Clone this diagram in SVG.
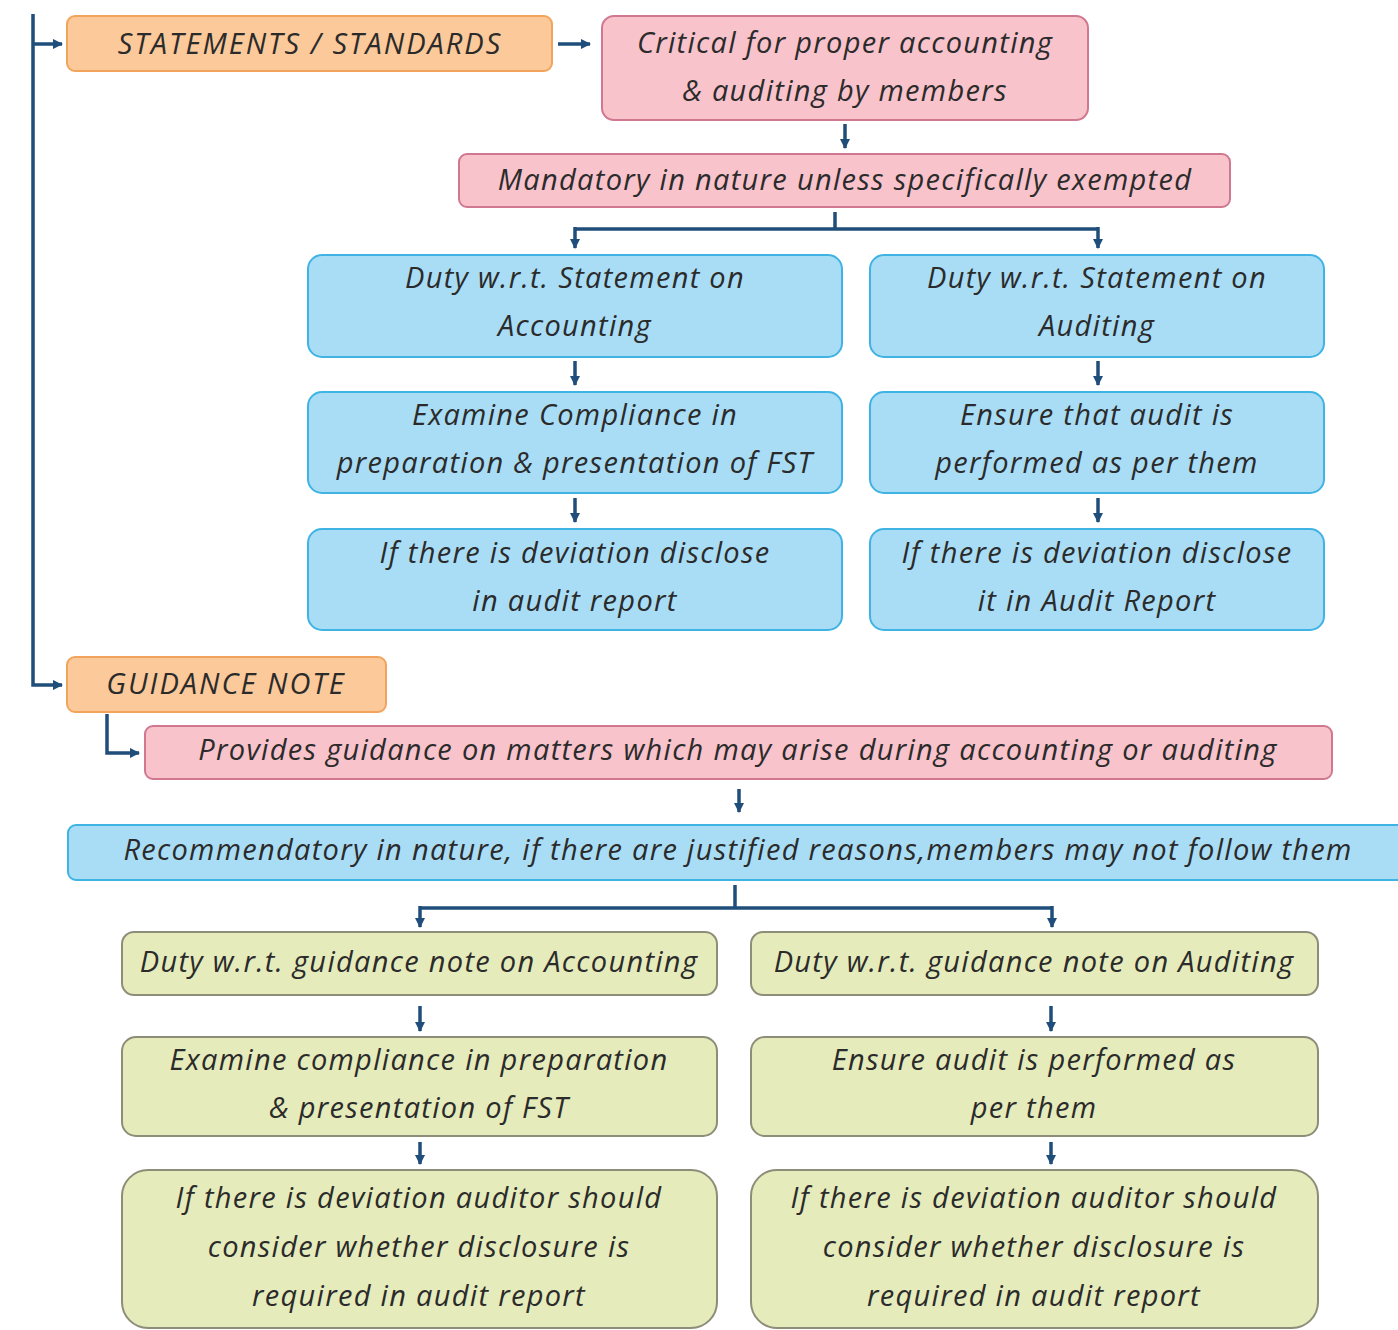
<svg xmlns="http://www.w3.org/2000/svg" width="1398" height="1330" viewBox="0 0 1398 1330">
  <style>
    .t { font-family: "Open Sans", "Liberation Sans", sans-serif; font-style: italic; font-size: 29px; letter-spacing: 1.3px; fill: #2b2b2b; text-anchor: middle; }
    .cap { letter-spacing: 2px; }
    .orange rect { fill: #fcc99a; stroke: #f2a45c; stroke-width: 2; }
    .pink rect { fill: #f8c3cb; stroke: #cf7890; stroke-width: 2; }
    .blue rect { fill: #a9ddf6; stroke: #3fb3e3; stroke-width: 2; }
    .green rect { fill: #e6ebbb; stroke: #8d8d78; stroke-width: 2; }
    .c { fill: none; stroke: #1f4e7a; stroke-width: 3.5; }
  </style>
  <defs>
    <marker id="ah" viewBox="0 0 10 10" refX="9" refY="5" markerWidth="3" markerHeight="3" orient="auto" markerUnits="strokeWidth">
      <path d="M0,0 L10,5 L0,10 Z" fill="#1f4e7a"/>
    </marker>
  </defs>
  <rect width="1398" height="1330" fill="#ffffff"/>

  <!-- connectors -->
  <g id="connectors">
    <path class="c" d="M33,14 V685 H62" marker-end="url(#ah)"/>
    <path class="c" d="M33,44 H62" marker-end="url(#ah)"/>
    <path class="c" d="M558,44 H590" marker-end="url(#ah)"/>
    <path class="c" d="M845,124 V148" marker-end="url(#ah)"/>
    <path class="c" d="M835,212 V229"/>
    <path class="c" d="M575,229 H1098"/>
    <path class="c" d="M575,227 V248" marker-end="url(#ah)"/>
    <path class="c" d="M1098,227 V248" marker-end="url(#ah)"/>
    <path class="c" d="M575,361 V385" marker-end="url(#ah)"/>
    <path class="c" d="M1098,361 V385" marker-end="url(#ah)"/>
    <path class="c" d="M575,498 V522" marker-end="url(#ah)"/>
    <path class="c" d="M1098,498 V522" marker-end="url(#ah)"/>
    <path class="c" d="M107,714 V753 H139" marker-end="url(#ah)"/>
    <path class="c" d="M739,789 V812" marker-end="url(#ah)"/>
    <path class="c" d="M735,885 V908"/>
    <path class="c" d="M420,908 H1052"/>
    <path class="c" d="M420,906 V927" marker-end="url(#ah)"/>
    <path class="c" d="M1052,906 V927" marker-end="url(#ah)"/>
    <path class="c" d="M420,1006 V1031" marker-end="url(#ah)"/>
    <path class="c" d="M1051,1006 V1031" marker-end="url(#ah)"/>
    <path class="c" d="M420,1142 V1164" marker-end="url(#ah)"/>
    <path class="c" d="M1051,1142 V1164" marker-end="url(#ah)"/>
  </g>

  <g id="statements" class="orange">
    <rect x="67" y="16" width="485" height="55" rx="8"/>
    <text class="t cap" x="310" y="54">STATEMENTS / STANDARDS</text>
  </g>
  <g id="critical" class="pink">
    <rect x="602" y="16" width="486" height="104" rx="12"/>
    <text class="t" x="845" y="53">Critical for proper accounting</text>
    <text class="t" x="845" y="101">&amp; auditing by members</text>
  </g>
  <g id="mandatory" class="pink">
    <rect x="459" y="154" width="771" height="53" rx="8"/>
    <text class="t" x="845" y="190">Mandatory in nature unless specifically exempted</text>
  </g>

  <g id="duty-soa" class="blue">
    <rect x="308" y="255" width="534" height="102" rx="14"/>
    <text class="t" x="575" y="288">Duty w.r.t. Statement on</text>
    <text class="t" x="575" y="336">Accounting</text>
  </g>
  <g id="duty-sa" class="blue">
    <rect x="870" y="255" width="454" height="102" rx="14"/>
    <text class="t" x="1097" y="288">Duty w.r.t. Statement on</text>
    <text class="t" x="1097" y="336">Auditing</text>
  </g>
  <g id="examine-soa" class="blue">
    <rect x="308" y="392" width="534" height="101" rx="14"/>
    <text class="t" x="575" y="425">Examine Compliance in</text>
    <text class="t" x="575" y="473">preparation &amp; presentation of FST</text>
  </g>
  <g id="ensure-sa" class="blue">
    <rect x="870" y="392" width="454" height="101" rx="14"/>
    <text class="t" x="1097" y="425">Ensure that audit is</text>
    <text class="t" x="1097" y="473">performed as per them</text>
  </g>
  <g id="deviation-soa" class="blue">
    <rect x="308" y="529" width="534" height="101" rx="14"/>
    <text class="t" x="575" y="563">If there is deviation disclose</text>
    <text class="t" x="575" y="611">in audit report</text>
  </g>
  <g id="deviation-sa" class="blue">
    <rect x="870" y="529" width="454" height="101" rx="14"/>
    <text class="t" x="1097" y="563">If there is deviation disclose</text>
    <text class="t" x="1097" y="611">it in Audit Report</text>
  </g>

  <g id="guidance" class="orange">
    <rect x="67" y="657" width="319" height="55" rx="8"/>
    <text class="t cap" x="226" y="694">GUIDANCE NOTE</text>
  </g>
  <g id="provides" class="pink">
    <rect x="145" y="726" width="1187" height="53" rx="8"/>
    <text class="t" x="738" y="760">Provides guidance on matters which may arise during accounting or auditing</text>
  </g>
  <g id="recommendatory" class="blue">
    <rect x="68" y="825" width="1345" height="55" rx="8"/>
    <text class="t" x="738" y="860">Recommendatory in nature, if there are justified reasons,members may not follow them</text>
  </g>

  <g id="duty-gna" class="green">
    <rect x="122" y="932" width="595" height="63" rx="12"/>
    <text class="t" x="419" y="972">Duty w.r.t. guidance note on Accounting</text>
  </g>
  <g id="duty-gnaud" class="green">
    <rect x="751" y="932" width="567" height="63" rx="12"/>
    <text class="t" x="1034" y="972">Duty w.r.t. guidance note on Auditing</text>
  </g>
  <g id="examine-gn" class="green">
    <rect x="122" y="1037" width="595" height="99" rx="14"/>
    <text class="t" x="419" y="1070">Examine compliance in preparation</text>
    <text class="t" x="419" y="1118">&amp; presentation of FST</text>
  </g>
  <g id="ensure-gn" class="green">
    <rect x="751" y="1037" width="567" height="99" rx="14"/>
    <text class="t" x="1034" y="1070">Ensure audit is performed as</text>
    <text class="t" x="1034" y="1118">per them</text>
  </g>
  <g id="deviation-gna" class="green">
    <rect x="122" y="1170" width="595" height="158" rx="26"/>
    <text class="t" x="419" y="1208">If there is deviation auditor should</text>
    <text class="t" x="419" y="1257">consider whether disclosure is</text>
    <text class="t" x="419" y="1306">required in audit report</text>
  </g>
  <g id="deviation-gnaud" class="green">
    <rect x="751" y="1170" width="567" height="158" rx="26"/>
    <text class="t" x="1034" y="1208">If there is deviation auditor should</text>
    <text class="t" x="1034" y="1257">consider whether disclosure is</text>
    <text class="t" x="1034" y="1306">required in audit report</text>
  </g>
</svg>
